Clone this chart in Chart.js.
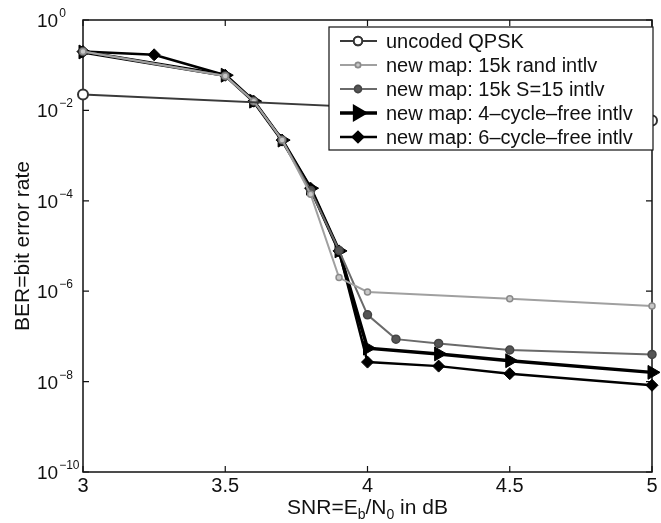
<!DOCTYPE html>
<html>
<head>
<meta charset="utf-8">
<script src="https://cdn.jsdelivr.net/npm/chart.js@4/dist/chart.umd.min.js"></script>
<style>
  html, body { margin: 0; padding: 0; background: #fff; }
  #wrap { width: 661px; height: 523px; }
</style>
</head>
<body>
<div id="wrap"><canvas id="berChart" width="661" height="523"></canvas></div>
<script>
// values (BER vs SNR in dB)
const qpskSnr = [3, 5];
const qpskBer = [0.0225, 0.0060];

const randSnr = [3, 3.5, 3.6, 3.7, 3.8, 3.9, 4, 4.5, 5];
const randBer = [0.2, 0.058, 0.016, 0.0022, 1.4e-4, 2.0e-6, 9.6e-7, 6.8e-7, 4.7e-7];

const s15Snr = [3, 3.5, 3.6, 3.7, 3.8, 3.9, 4, 4.1, 4.25, 4.5, 5];
const s15Ber = [0.2, 0.058, 0.016, 0.0022, 1.7e-4, 8e-6, 3e-7, 8.7e-8, 7e-8, 5e-8, 4e-8];

const cyc4Snr = [3, 3.5, 3.6, 3.7, 3.8, 3.9, 4, 4.25, 4.5, 5];
const cyc4Ber = [0.196, 0.06, 0.016, 0.0022, 1.9e-4, 7.8e-6, 5.5e-8, 4.1e-8, 2.9e-8, 1.6e-8];

const cyc6Snr = [3, 3.25, 3.5, 3.6, 3.7, 3.8, 3.9, 4, 4.25, 4.5, 5];
const cyc6Ber = [0.2, 0.17, 0.06, 0.016, 0.0022, 1.9e-4, 7.8e-6, 2.7e-8, 2.2e-8, 1.5e-8, 8.3e-9];

const legendLabels = [
    'uncoded QPSK',
    'new map: 15k rand intlv',
    'new map: 15k S=15 intlv',
    'new map: 4\u2013cycle\u2013free intlv',
    'new map: 6\u2013cycle\u2013free intlv'
];
const xTicks = [3, 3.5, 4, 4.5, 5];
const yTickExps = [0, -2, -4, -6, -8, -10];

const FONT = '"Liberation Sans", Arial, Helvetica, sans-serif';

function pairs(xs, ys) {
    return xs.map((x, i) => ({ x: x, y: ys[i] }));
}

// draws the matlab style frame, ticks, labels and legend
const paperPlot = {
    id: 'paperPlot',
    beforeDatasetsDraw(chart) {
        const ctx = chart.ctx;
        const a = chart.chartArea;
        const xs = chart.scales.x, ys = chart.scales.y;
        ctx.save();
        ctx.strokeStyle = '#111';
        ctx.lineWidth = 1.5;
        ctx.strokeRect(a.left, a.top, a.right - a.left, a.bottom - a.top);
        ctx.lineWidth = 1.2;
        xTicks.forEach(v => {
            const px = xs.getPixelForValue(v);
            ctx.beginPath();
            ctx.moveTo(px, a.bottom); ctx.lineTo(px, a.bottom - 6);
            ctx.moveTo(px, a.top); ctx.lineTo(px, a.top + 6);
            ctx.stroke();
        });
        yTickExps.forEach(e => {
            const py = ys.getPixelForValue(Math.pow(10, e));
            ctx.beginPath();
            ctx.moveTo(a.left, py); ctx.lineTo(a.left + 6, py);
            ctx.moveTo(a.right, py); ctx.lineTo(a.right - 6, py);
            ctx.stroke();
        });
        ctx.restore();
    },
    afterDraw(chart) {
        const ctx = chart.ctx;
        const a = chart.chartArea;
        const xs = chart.scales.x, ys = chart.scales.y;
        ctx.save();
        ctx.fillStyle = '#111';

        // x tick labels
        ctx.font = '20px ' + FONT;
        ctx.textAlign = 'center';
        ctx.textBaseline = 'top';
        xTicks.forEach(v => {
            ctx.fillText(String(v), xs.getPixelForValue(v), a.bottom + 4);
        });

        // y tick labels 10^e
        ctx.textAlign = 'left';
        ctx.textBaseline = 'alphabetic';
        yTickExps.forEach(e => {
            const py = ys.getPixelForValue(Math.pow(10, e));
            ctx.font = '19px ' + FONT;
            ctx.fillText('10', 37, py + 7);
            const w = ctx.measureText('10').width;
            ctx.font = '12px ' + FONT;
            ctx.fillText(e === 0 ? '0' : '\u2212' + Math.abs(e), 37 + w + 1, py - 3);
        });

        // x axis title with subscripts
        const parts = [['SNR=E', 21, 0], ['b', 14, 5], ['/N', 21, 0], ['0', 14, 5], [' in dB', 21, 0]];
        let total = 0;
        parts.forEach(p => { ctx.font = p[1] + 'px ' + FONT; total += ctx.measureText(p[0]).width; });
        let cx = (a.left + a.right) / 2 - total / 2;
        const base = a.bottom + 42;
        parts.forEach(p => {
            ctx.font = p[1] + 'px ' + FONT;
            ctx.fillText(p[0], cx, base + p[2]);
            cx += ctx.measureText(p[0]).width;
        });

        // y axis title
        ctx.save();
        ctx.translate(29, (a.top + a.bottom) / 2);
        ctx.rotate(-Math.PI / 2);
        ctx.textAlign = 'center';
        ctx.font = '21px ' + FONT;
        ctx.fillText('BER=bit error rate', 0, 0);
        ctx.restore();

        // legend box
        const lx = 329, ly = 27, lw = 324, lh = 123;
        ctx.fillStyle = '#fff';
        ctx.fillRect(lx, ly, lw, lh);
        ctx.strokeStyle = '#111';
        ctx.lineWidth = 1.2;
        ctx.strokeRect(lx, ly, lw, lh);
        chart.data.datasets.forEach((ds, i) => {
            const ry = 41 + i * 24;
            ctx.strokeStyle = ds.borderColor;
            ctx.lineWidth = ds.borderWidth;
            ctx.beginPath();
            ctx.moveTo(340, ry); ctx.lineTo(377, ry);
            ctx.stroke();
            if (Chart.helpers && Chart.helpers.drawPoint) {
                Chart.helpers.drawPoint(ctx, {
                    pointStyle: ds.pointStyle,
                    rotation: ds.pointRotation || 0,
                    radius: ds.pointRadius * 0.85,
                    borderWidth: ds.pointBorderWidth
                }, 358, ry);
            }
            ctx.fillStyle = ds.pointBackgroundColor;
            ctx.strokeStyle = ds.pointBorderColor;
            ctx.lineWidth = ds.pointBorderWidth;
            ctx.fill();
            ctx.stroke();
            ctx.fillStyle = '#111';
            ctx.font = '20px ' + FONT;
            ctx.textAlign = 'left';
            ctx.textBaseline = 'middle';
            ctx.fillText(legendLabels[i], 386, ry + 1);
        });
        ctx.restore();
    }
};

let ctx = document.getElementById('berChart').getContext('2d');
let berChart = new Chart(ctx, {
    type: 'line',
    data: {
        datasets: [
            {
                label: legendLabels[0],
                data: pairs(qpskSnr, qpskBer),
                borderColor: '#3a3a3a',
                borderWidth: 1.8,
                pointStyle: 'circle',
                pointRadius: 5,
                pointBorderWidth: 2,
                pointBackgroundColor: '#fff',
                pointBorderColor: '#333'
            },
            {
                label: legendLabels[1],
                data: pairs(randSnr, randBer),
                borderColor: '#a0a0a0',
                borderWidth: 2,
                pointStyle: 'circle',
                pointRadius: 3,
                pointBorderWidth: 1.5,
                pointBackgroundColor: '#c8c8c8',
                pointBorderColor: '#8a8a8a'
            },
            {
                label: legendLabels[2],
                data: pairs(s15Snr, s15Ber),
                borderColor: '#6a6a6a',
                borderWidth: 2,
                pointStyle: 'circle',
                pointRadius: 4,
                pointBorderWidth: 1.5,
                pointBackgroundColor: '#555',
                pointBorderColor: '#444'
            },
            {
                label: legendLabels[3],
                data: pairs(cyc4Snr, cyc4Ber),
                borderColor: '#000',
                borderWidth: 3.5,
                pointStyle: 'triangle',
                pointRotation: 90,
                pointRadius: 8,
                pointBorderWidth: 1,
                pointBackgroundColor: '#000',
                pointBorderColor: '#000'
            },
            {
                label: legendLabels[4],
                data: pairs(cyc6Snr, cyc6Ber),
                borderColor: '#000',
                borderWidth: 2.5,
                pointStyle: 'rectRot',
                pointRadius: 6,
                pointBorderWidth: 1,
                pointBackgroundColor: '#000',
                pointBorderColor: '#000'
            }
        ]
    },
    options: {
        responsive: false,
        animation: false,
        clip: false,
        layout: {
            padding: { left: 83, right: 2, top: 20, bottom: 51 }
        },
        elements: {
            line: { tension: 0, fill: false }
        },
        plugins: {
            legend: { display: false },
            tooltip: { enabled: false }
        },
        scales: {
            x: {
                type: 'linear',
                min: 3,
                max: 5,
                display: false
            },
            y: {
                type: 'logarithmic',
                min: 1e-10,
                max: 1,
                display: false
            }
        }
    },
    plugins: [paperPlot]
});
</script>
</body>
</html>
